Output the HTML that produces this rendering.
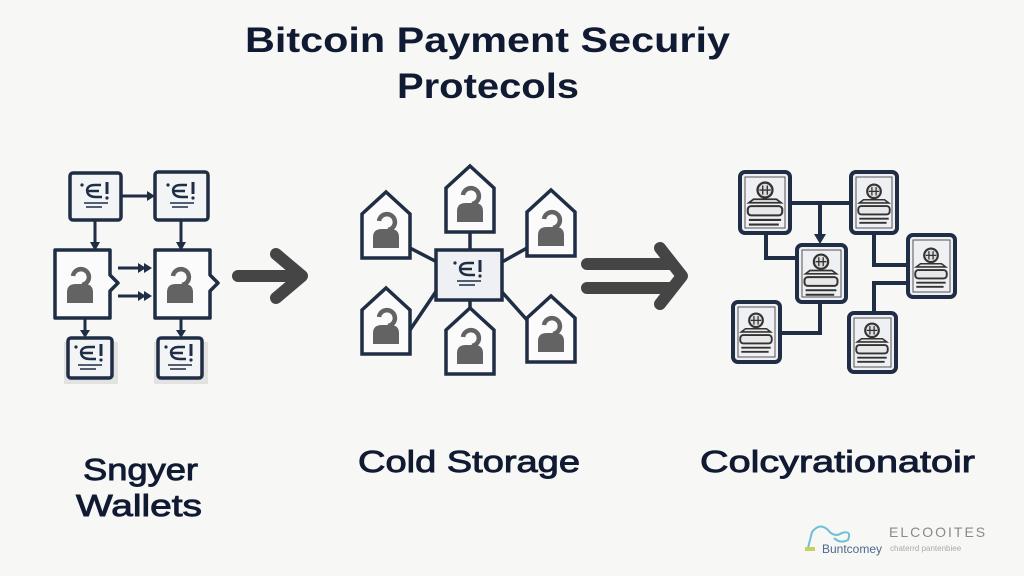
<!DOCTYPE html>
<html><head><meta charset="utf-8"><style>
html,body{margin:0;padding:0;background:#f7f7f5;}
svg{display:block;}
</style></head><body>
<svg width="1024" height="576" viewBox="0 0 1024 576" xmlns="http://www.w3.org/2000/svg">
<defs>
  <g id="doc">
    <circle cx="-14" cy="-11" r="1.6" fill="#1f2d45"/>
    <path d="M-9,-5 Q-9,-11 -1,-11 L5,-11 M-9,-5 L3,-5 M-9,-5 Q-8,1 0,1 L6,1" fill="none" stroke="#1f2d45" stroke-width="2.4"/>
    <path d="M11,-14 L11,-2" stroke="#1f2d45" stroke-width="3"/>
    <circle cx="11" cy="2" r="1.6" fill="#1f2d45"/>
    <path d="M-12,7 L12,7 M-10,11 L6,11" stroke="#1f2d45" stroke-width="1.6"/>
  </g>
  <g id="person">
    <path d="M-7,-7 A8,8 0 1 1 2,2" fill="none" stroke="#636363" stroke-width="4.5"/>
    <path d="M-13,20 L-13,9 Q-13,1 -4,1 L4,1 Q13,1 13,9 L13,20 Z" fill="#636363"/>
  </g>
  <g id="house">
    <path d="M-24,-12 L0,-34 L24,-12 L24,32 L-24,32 Z" fill="#fbfbfb" stroke="#1f2d45" stroke-width="3.5" stroke-linejoin="miter"/>
    <use href="#person" y="2"/>
  </g>
  <g id="coin">
    <circle cx="0" cy="-13" r="6.5" fill="#ddd" stroke="#333" stroke-width="2"/>
    <path d="M-2,-17 L-2,-9 M2,-17 L2,-9 M-5,-13 L5,-13" stroke="#333" stroke-width="1.2"/>
    <path d="M-10,-5 L10,-5 L14,-2 L-14,-2 Z" fill="#e8e8e8" stroke="#333" stroke-width="1.5"/>
    <rect x="-15" y="1" width="30" height="8" rx="3" fill="#e8e8e8" stroke="#333" stroke-width="1.8"/>
    <path d="M-14,13 L14,13 M-14,17 L12,17" stroke="#333" stroke-width="1.8"/>
  </g>
</defs>

<g font-family="Liberation Sans, sans-serif" font-weight="bold" fill="#111a33">
  <text x="245" y="52" font-size="35" textLength="485" lengthAdjust="spacingAndGlyphs">Bitcoin Payment Securiy</text>
  <text x="397" y="98" font-size="35" textLength="182" lengthAdjust="spacingAndGlyphs">Protecols</text>
</g>

<!-- LEFT -->
<g stroke="#1f2d45" fill="none" stroke-width="3">
  <path d="M121,196 L150,196"/>
  <path d="M95,220 L95,246 M181,220 L181,246"/>
  <path d="M85,318 L85,334 M181,318 L181,334"/>
  <path d="M118,268 L146,268 M118,296 L146,296"/>
</g>
<g fill="#1f2d45">
  <path d="M155,196 L147,191 L147,201 Z"/>
  <path d="M95,251 L90,242 L100,242 Z"/>
  <path d="M181,251 L176,242 L186,242 Z"/>
  <path d="M85,338 L80,330 L90,330 Z"/>
  <path d="M181,338 L176,330 L186,330 Z"/>
  <path d="M152,268 L144,263 L144,273 Z M146,268 L138,263 L138,273Z"/>
  <path d="M152,296 L144,291 L144,301 Z M146,296 L138,291 L138,301Z"/>
</g>
<rect x="64" y="342" width="54" height="42" fill="#e2e2e2"/>
<rect x="154" y="342" width="54" height="42" fill="#e2e2e2"/>
<g fill="#f3f4f6" stroke="#1f2d45" stroke-width="3.5">
  <rect x="70" y="173" width="51" height="47" rx="3"/>
  <rect x="155" y="172" width="53" height="48" rx="3"/>
  <path d="M55,250 L110,250 L110,275 L118,283 L110,291 L110,318 L55,318 Z" fill="#fbfbfb" stroke-linejoin="round"/>
  <path d="M155,250 L210,250 L210,275 L218,283 L210,291 L210,318 L155,318 Z" fill="#fbfbfb" stroke-linejoin="round"/>
  <rect x="68" y="338" width="44" height="40" rx="3"/>
  <rect x="158" y="338" width="44" height="40" rx="3"/>
</g>
<use href="#doc" x="96" y="196"/>
<use href="#doc" x="182" y="196"/>
<use href="#doc" x="90" y="358"/>
<use href="#doc" x="180" y="358"/>
<use href="#person" x="80" y="283"/>
<use href="#person" x="180" y="283"/>

<path d="M238,276 L300,276 M276,254 L302,276 L276,298" fill="none" stroke="#454545" stroke-width="12" stroke-linecap="round" stroke-linejoin="round"/>

<!-- MIDDLE -->
<g stroke="#1f2d45" stroke-width="3.5">
  <path d="M470,227 L470,250"/>
  <path d="M410,248 L437,262"/>
  <path d="M527,248 L502,262"/>
  <path d="M410,330 L437,290"/>
  <path d="M527,320 L502,292"/>
  <path d="M470,300 L470,308"/>
</g>
<use href="#house" x="470" y="200"/>
<use href="#house" x="386" y="226"/>
<use href="#house" x="551" y="224"/>
<use href="#house" x="386" y="322"/>
<use href="#house" x="470" y="342"/>
<use href="#house" x="551" y="330"/>
<rect x="436" y="250" width="66" height="50" fill="#eef0f3" stroke="#1f2d45" stroke-width="3.5"/>
<use href="#doc" x="469" y="274"/>

<g fill="none" stroke="#454545" stroke-width="12" stroke-linecap="round" stroke-linejoin="round">
  <path d="M587,264 L670,264 M587,288 L670,288"/>
  <path d="M660,248 L682,276 L660,304"/>
</g>

<!-- RIGHT -->
<g stroke="#1f2d45" stroke-width="4" fill="none">
  <path d="M790,203 L851,203"/>
  <path d="M820,203 L820,238"/>
  <path d="M766,233 L766,258 L797,258"/>
  <path d="M820,302 L820,333 L780,333"/>
  <path d="M874,233 L874,265 L908,265"/>
  <path d="M908,283 L874,283 L874,313"/>
</g>
<path d="M820,244 L814,234 L826,234 Z" fill="#1f2d45"/>
<g fill="#eef0f3" stroke="#1f2d45" stroke-width="4">
  <rect x="740" y="172" width="50" height="61" rx="5"/>
  <rect x="851" y="172" width="46" height="61" rx="5"/>
  <rect x="797" y="245" width="49" height="57" rx="5"/>
  <rect x="908" y="235" width="47" height="62" rx="5"/>
  <rect x="733" y="302" width="47" height="60" rx="5"/>
  <rect x="849" y="313" width="47" height="59" rx="5"/>
</g>
<g fill="none" stroke="#555" stroke-width="1">
  <rect x="745" y="177" width="40" height="51"/>
  <rect x="856" y="177" width="36" height="51"/>
  <rect x="802" y="250" width="39" height="47"/>
  <rect x="913" y="240" width="37" height="52"/>
  <rect x="738" y="307" width="37" height="50"/>
  <rect x="854" y="318" width="37" height="49"/>
</g>
<use href="#coin" x="765" y="205" transform="translate(765,205) scale(1.15) translate(-765,-205)"/>
<use href="#coin" x="874" y="205" transform="translate(874,205) scale(1.05) translate(-874,-205)"/>
<use href="#coin" x="821" y="276" transform="translate(821,276) scale(1.1) translate(-821,-276)"/>
<use href="#coin" x="931" y="269" transform="translate(931,269) scale(1.05) translate(-931,-269)"/>
<use href="#coin" x="756" y="334" transform="translate(756,334) scale(1.05) translate(-756,-334)"/>
<use href="#coin" x="872" y="344" transform="translate(872,344) scale(1.05) translate(-872,-344)"/>

<g font-family="Liberation Sans, sans-serif" fill="#111a33" stroke="#111a33" stroke-width="0.9" font-size="31">
  <text x="83" y="480" textLength="115" lengthAdjust="spacingAndGlyphs">Sngyer</text>
  <text x="76" y="516" textLength="126" lengthAdjust="spacingAndGlyphs">Wallets</text>
  <text x="358" y="472" textLength="222" lengthAdjust="spacingAndGlyphs">Cold Storage</text>
  <text x="700" y="472" textLength="275" lengthAdjust="spacingAndGlyphs">Colcyrationatoir</text>
</g>

<path d="M808,548 L812,532 Q820,522 828,530 Q834,538 842,533 Q852,530 848,540 Q840,544 834,538" fill="none" stroke="#6cc0d8" stroke-width="2"/>
<rect x="805" y="547" width="10" height="4" fill="#c8d060"/>
<text x="822" y="553" font-family="Liberation Sans, sans-serif" font-size="12" fill="#4a6a8a">Buntcomey</text>
<text x="889" y="537" font-family="Liberation Sans, sans-serif" font-size="14" fill="#8a8a8a" letter-spacing="2">ELCOOITES</text>
<text x="890" y="551" font-family="Liberation Sans, sans-serif" font-size="8" fill="#aaa">chaterrd pantenbiee</text>
</svg>
</body></html>
